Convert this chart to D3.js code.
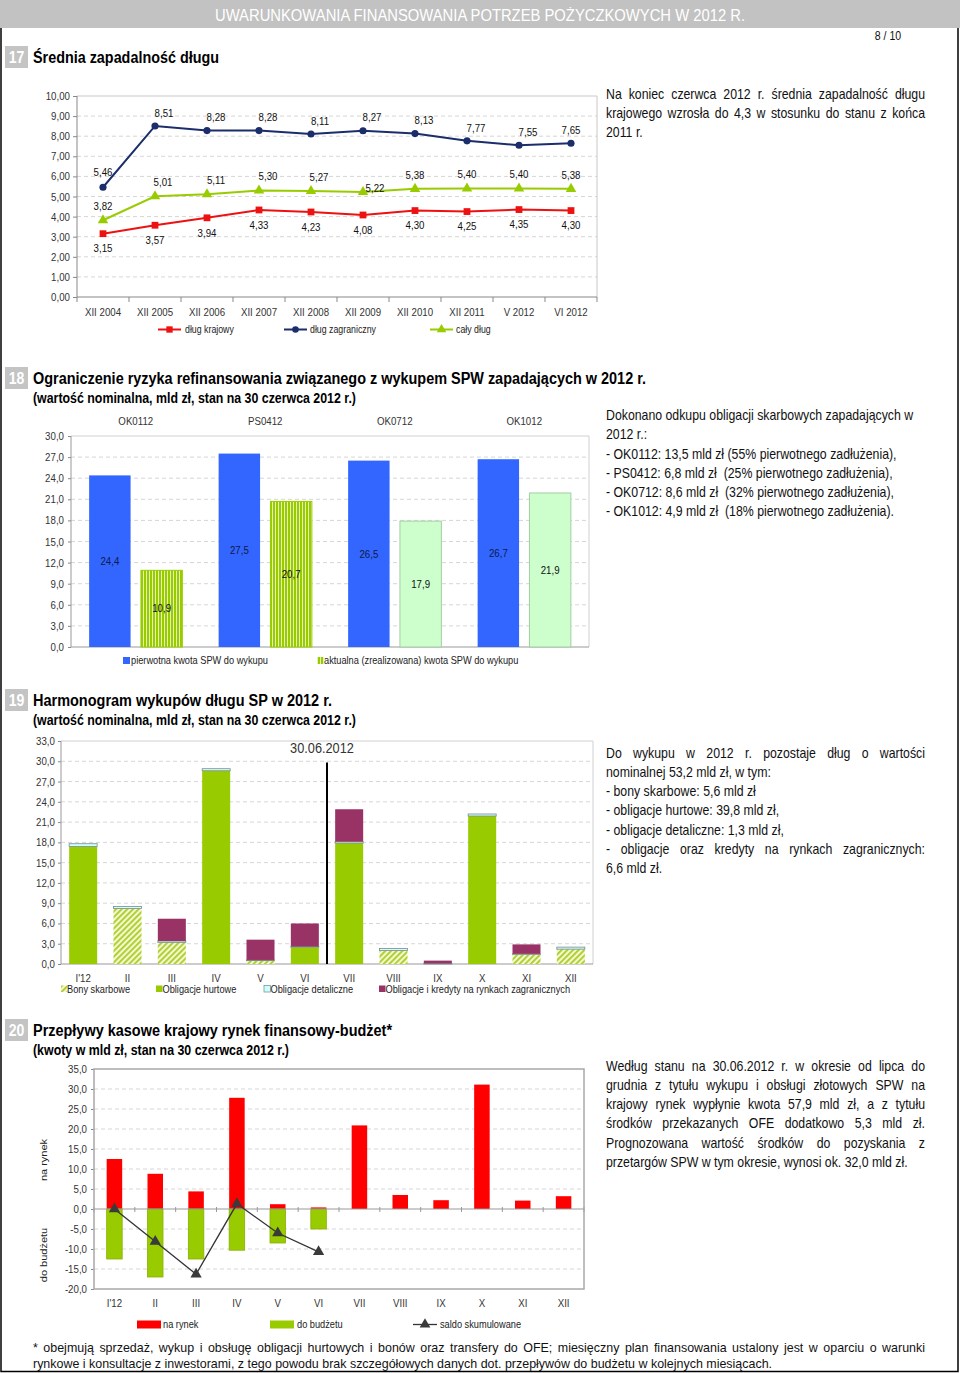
<!DOCTYPE html>
<html><head><meta charset="utf-8">
<script src="https://cdn.jsdelivr.net/npm/d3@7"></script>
<style>
body{margin:0;background:#fff;}
svg{display:block;}
text{white-space:pre;}
</style></head><body>
<svg id="page" width="960" height="1373"></svg>
<script>
// ---------------- DATA ----------------
const c17Categories = ["XII 2004","XII 2005","XII 2006","XII 2007","XII 2008","XII 2009","XII 2010","XII 2011","V 2012","VI 2012"];
const c17Domestic = [3.15,3.57,3.94,4.33,4.23,4.08,4.30,4.25,4.35,4.30];
const c17Foreign  = [5.46,8.51,8.28,8.28,8.11,8.27,8.13,7.77,7.55,7.65];
const c17Total    = [3.82,5.01,5.11,5.30,5.27,5.22,5.38,5.40,5.40,5.38];
const c17Ticks = [0,1,2,3,4,5,6,7,8,9,10];
const c17SeriesNames = ["dług krajowy","dług zagraniczny","cały dług"];

const c18Bonds = ["OK0112","PS0412","OK0712","OK1012"];
const c18Original = [24.4,27.5,26.5,26.7];
const c18Current  = [10.9,20.7,17.9,21.9];
const c18Ticks = [0,3,6,9,12,15,18,21,24,27,30];
const c18SeriesNames = ["pierwotna kwota SPW do wykupu","aktualna (zrealizowana) kwota SPW do wykupu"];

const c19Months = ["I'12","II","III","IV","V","VI","VII","VIII","IX","X","XI","XII"];
const c19Bills     = [0,8.2,3.2,0,0.5,0,0,2.0,0,0,1.4,2.2];
const c19Wholesale = [17.4,0,0,28.6,0,2.5,17.9,0,0,21.9,0,0];
const c19Retail    = [0.4,0.3,0.2,0.3,0.1,0.1,0.2,0.3,0.1,0.3,0.1,0.3];
const c19ForeignM  = [0,0,3.3,0,3.0,3.4,4.8,0,0.4,0,1.4,0];
const c19Ticks = [0,3,6,9,12,15,18,21,24,27,30,33];
const c19SeriesNames = ["Bony skarbowe","Obligacje hurtowe","Obligacje detaliczne","Obligacje i kredyty na rynkach zagranicznych"];
const c19CutoffLabel = "30.06.2012";

const c20Months = ["I'12","II","III","IV","V","VI","VII","VIII","IX","X","XI","XII"];
const c20ToMarket = [12.5,8.8,4.4,27.8,1.2,0.4,20.9,3.5,2.2,31.1,2.1,3.2];
const c20ToBudget = [-12.5,-17.0,-12.5,-10.3,-8.5,-5.0];
const c20Balance  = [0.0,-8.1,-16.3,1.3,-6.0,-10.7];
const c20Ticks = [-20,-15,-10,-5,0,5,10,15,20,25,30,35];
const c20SeriesNames = ["na rynek","do budżetu","saldo skumulowane"];

// label nudges (style only)
const c17ForeignLabelDx = [0,9,9,9,9,9,9,9,9,0];
const c17TotalLabelDx   = [0,8,9,9,8,12,0,0,0,0];

// ---------------- SETUP ----------------
const FONT = '"Liberation Sans", Arial, sans-serif';
const K = 0.88;
const svg = d3.select('#page').attr('font-family', FONT);
const loc = d3.formatLocale({decimal:",", thousands:" ", grouping:[3], currency:["",""], minus:"-"});
const fmt2 = loc.format(".2f"), fmt1 = loc.format(".1f");

function T(parent, x, y, str, o={}) {
  const k = o.k ?? K;
  const g = parent.append('g').attr('transform', `translate(${x},${y}) scale(${k},1)` + (o.rotate ? ` rotate(${o.rotate})` : ''));
  const t = g.append('text').text(str)
    .attr('font-size', o.size || 11)
    .attr('font-weight', o.weight || 'normal')
    .attr('fill', o.fill || '#222')
    .attr('text-anchor', o.anchor || 'start')
    .attr('dominant-baseline', 'central');
  if (o.width) t.attr('textLength', o.width / k).attr('lengthAdjust', 'spacingAndGlyphs');
  return t;
}
function para(x, y0, lh, width, lines, size, k=K) {
  const g = svg.append('g').attr('transform', `translate(${x},0) scale(${k},1)`);
  const W = width / k;
  lines.forEach(([str, just], i) => {
    const y = y0 + i * lh;
    if (!just) {
      g.append('text').attr('x',0).attr('y',y).attr('font-size',size).attr('fill','#111')
        .attr('dominant-baseline','central').text(str);
      return;
    }
    const words = str.split(' ').filter(w => w.length);
    const els = words.map(w => g.append('text').attr('y',y).attr('font-size',size).attr('fill','#111')
        .attr('dominant-baseline','central').text(w));
    const ws = els.map(e => e.node().getComputedTextLength());
    const gap = (W - d3.sum(ws)) / (words.length - 1);
    let cx = 0;
    els.forEach((e,j) => { e.attr('x', cx); cx += ws[j] + gap; });
  });
}
function styleAxis(sel, size=11) {
  sel.attr('font-family', FONT);
  sel.select('.domain').remove();
  sel.selectAll('text').attr('font-size', size).attr('fill', '#333').attr('transform', `scale(${K},1)`);
  sel.selectAll('.tick line').attr('stroke', '#888');
}
function sectionHead(num, y, title, tw, sub, sw) {
  svg.append('rect').attr('x',5).attr('y',y-11).attr('width',23).attr('height',22).attr('fill','#c4c4c4');
  T(svg, 16.5, y+0.5, num, {size:16, fill:'#fff', anchor:'middle', weight:'bold'});
  T(svg, 33, y, title, {size:17, weight:'bold', fill:'#000', width: tw});
  if (sub) T(svg, 33, y+20, sub, {size:14, weight:'bold', fill:'#000', width: sw});
}

const defs = svg.append('defs');
const pv = defs.append('pattern').attr('id','vstripe').attr('patternUnits','userSpaceOnUse').attr('width',3).attr('height',6);
pv.append('rect').attr('width',3).attr('height',6).attr('fill','#99cc00');
pv.append('rect').attr('x',2).attr('width',1).attr('height',6).attr('fill','#e6f2b3');
const pd = defs.append('pattern').attr('id','diag').attr('patternUnits','userSpaceOnUse').attr('width',4).attr('height',4)
  .attr('patternTransform','rotate(45)');
pd.append('rect').attr('width',4).attr('height',4).attr('fill','#f4f8cc');
pd.append('rect').attr('width',1.8).attr('height',4).attr('fill','#a9cc2a');

// ---------------- PAGE ----------------
svg.append('rect').attr('x',0).attr('y',0).attr('width',960).attr('height',28).attr('fill','#c2c2c2');
T(svg, 480, 15, "UWARUNKOWANIA FINANSOWANIA POTRZEB POŻYCZKOWYCH W 2012 R.", {size:17, fill:'#fff', anchor:'middle', width:530});
svg.append('path').attr('d','M1,28 V1371.5 H958 V28').attr('fill','none').attr('stroke','#000').attr('stroke-width',1.5);
T(svg, 888, 36, "8 / 10", {size:12, fill:'#111', anchor:'middle'});

// ================= CHART 17 =================
sectionHead("17", 57, "Średnia zapadalność długu", 186);
{
  const g = svg.append('g');
  const L=77, R=597, B=297, Tp=96;
  const x = d3.scaleBand().domain(c17Categories).range([L,R]);
  const y = d3.scaleLinear().domain([0,10]).range([B,Tp]);
  const cx = (i) => x(c17Categories[i]) + x.bandwidth()/2;
  g.selectAll('line.grid').data(c17Ticks.filter(d=>d>0 && d<10)).join('line')
    .attr('x1',L).attr('x2',R).attr('y1',d=>y(d)).attr('y2',d=>y(d))
    .attr('stroke','#d6d6d6').attr('stroke-dasharray','4,3');
  g.append('path').attr('d',`M${L},${Tp}H${R}V${B}`).attr('fill','none').attr('stroke','#c8c8c8');
  const ay = g.append('g').attr('transform',`translate(${L},0)`)
    .call(d3.axisLeft(y).tickValues(c17Ticks).tickSize(4).tickPadding(4).tickFormat(fmt2));
  styleAxis(ay, 11);
  g.append('line').attr('x1',L).attr('x2',L).attr('y1',Tp).attr('y2',B).attr('stroke','#888');
  const ax = g.append('g').attr('transform',`translate(0,${B})`)
    .call(d3.axisBottom(x).tickSize(0).tickPadding(11));
  styleAxis(ax, 11);
  g.append('line').attr('x1',L).attr('x2',R).attr('y1',B).attr('y2',B).attr('stroke','#888');
  g.selectAll('line.xt').data(c17Categories.concat(['end'])).join('line')
    .attr('x1',(d,i)=> i<c17Categories.length ? x(d) : R).attr('x2',(d,i)=> i<c17Categories.length ? x(d) : R)
    .attr('y1',B).attr('y2',B+5).attr('stroke','#888');

  const line = d3.line().x((d,i)=>cx(i)).y(d=>y(d));
  const series = [
    {v:c17Total, c:'#99cc00', sym:d3.symbolTriangle, sz:48},
    {v:c17Domestic, c:'#ee1111', sym:d3.symbolSquare, sz:46},
    {v:c17Foreign, c:'#1b2d6b', sym:d3.symbolCircle, sz:40},
  ];
  series.forEach(s=>{
    g.append('path').attr('d', line(s.v)).attr('fill','none').attr('stroke',s.c).attr('stroke-width',2);
    g.selectAll(null).data(s.v).join('path')
      .attr('transform',(d,i)=>`translate(${cx(i)},${y(d)})`)
      .attr('d', d3.symbol().type(s.sym).size(s.sz)).attr('fill',s.c);
  });
  c17Foreign.forEach((d,i)=> T(g, cx(i)+c17ForeignLabelDx[i], y(d)-(i===0?15:13), fmt2(d), {size:11, anchor:'middle', fill:'#111'}));
  c17Total.forEach((d,i)=> T(g, cx(i)+c17TotalLabelDx[i], y(d)-(i===5?4:14), fmt2(d), {size:11, anchor:'middle', fill:'#111'}));
  c17Domestic.forEach((d,i)=> T(g, cx(i), y(d)+15, fmt2(d), {size:11, anchor:'middle', fill:'#111'}));

  // legend
  const ly = 329.5;
  const leg = [
    {x:158, c:'#ee1111', sym:d3.symbolSquare, sz:40, tx:185},
    {x:284, c:'#1b2d6b', sym:d3.symbolCircle, sz:34, tx:310},
    {x:430, c:'#99cc00', sym:d3.symbolTriangle, sz:40, tx:456},
  ];
  leg.forEach((l,i)=>{
    g.append('line').attr('x1',l.x).attr('x2',l.x+23).attr('y1',ly).attr('y2',ly).attr('stroke',l.c).attr('stroke-width',2);
    g.append('path').attr('transform',`translate(${l.x+11.5},${ly})`).attr('d',d3.symbol().type(l.sym).size(l.sz)).attr('fill',l.c);
    T(g, l.tx, ly, c17SeriesNames[i], {size:10, fill:'#222'});
  });
}
para(606, 94, 19, 319, [
  ["Na koniec czerwca 2012 r. średnia zapadalność długu", true],
  ["krajowego wzrosła do 4,3 w stosunku do stanu z końca", true],
  ["2011 r.", false]], 14);

// ================= CHART 18 =================
sectionHead("18", 378, "Ograniczenie ryzyka refinansowania związanego z wykupem SPW zapadających w 2012 r.", 613,
  "(wartość nominalna, mld zł, stan na 30 czerwca 2012 r.)", 323);
{
  const g = svg.append('g');
  const L=71, R=589, B=647, Tp=436;
  const x = d3.scaleBand().domain(c18Bonds).range([L,R]);
  const xi = d3.scaleBand().domain([0,1]).range([0,x.bandwidth()]).paddingInner(0.2).paddingOuter(0.35);
  const y = d3.scaleLinear().domain([0,30]).range([B,Tp]);
  g.selectAll('line.grid').data(c18Ticks.filter(d=>d>0 && d<30)).join('line')
    .attr('x1',L).attr('x2',R).attr('y1',d=>y(d)).attr('y2',d=>y(d))
    .attr('stroke','#d6d6d6').attr('stroke-dasharray','4,3');
  g.append('path').attr('d',`M${L},${Tp}H${R}V${B}`).attr('fill','none').attr('stroke','#d0d0d0');
  const ay = g.append('g').attr('transform',`translate(${L},0)`)
    .call(d3.axisLeft(y).tickValues(c18Ticks).tickSize(3).tickPadding(5).tickFormat(fmt1));
  styleAxis(ay, 11);
  g.append('line').attr('x1',L).attr('x2',L).attr('y1',Tp).attr('y2',B).attr('stroke','#999');
  g.append('line').attr('x1',L).attr('x2',R).attr('y1',B).attr('y2',B).attr('stroke','#999');
  const ax = g.append('g').attr('transform',`translate(0,${Tp})`)
    .call(d3.axisTop(x).tickSize(0).tickPadding(10));
  styleAxis(ax, 11);
  ax.selectAll('text').attr('dy','0.32em').attr('y',-15);

  c18Bonds.forEach((b,i)=>{
    const x0 = x(b);
    g.append('rect').attr('x',x0+xi(0)).attr('width',xi.bandwidth()).attr('y',y(c18Original[i])).attr('height',B-y(c18Original[i]))
      .attr('fill','#3366ff');
    const fillC = i<2 ? 'url(#vstripe)' : '#ccffcc';
    g.append('rect').attr('x',x0+xi(1)).attr('width',xi.bandwidth()).attr('y',y(c18Current[i])).attr('height',B-y(c18Current[i]))
      .attr('fill',fillC).attr('stroke', i<2 ? '#99cc00' : '#a6cca6').attr('stroke-width',1);
    T(g, x0+xi(0)+xi.bandwidth()/2, (y(c18Original[i])+B)/2, fmt1(c18Original[i]), {size:11, anchor:'middle', fill:'#0b1a4a'});
    T(g, x0+xi(1)+xi.bandwidth()/2, (y(c18Current[i])+B)/2, fmt1(c18Current[i]), {size:11, anchor:'middle', fill:'#111'});
  });
  const ly = 660.5;
  g.append('rect').attr('x',123).attr('y',ly-3.5).attr('width',7).attr('height',7).attr('fill','#3366ff');
  T(g, 131, ly, c18SeriesNames[0], {size:10.5, fill:'#222'});
  g.append('rect').attr('x',317).attr('y',ly-3.5).attr('width',7).attr('height',7).attr('fill','url(#vstripe)');
  T(g, 324, ly, c18SeriesNames[1], {size:10.5, fill:'#222'});
}
para(606, 415.5, 19.2, 330, [
  ["Dokonano odkupu obligacji skarbowych zapadających w", false],
  ["2012 r.:", false],
  ["- OK0112: 13,5 mld zł (55% pierwotnego zadłużenia),", false],
  ["- PS0412: 6,8 mld zł  (25% pierwotnego zadłużenia),", false],
  ["- OK0712: 8,6 mld zł  (32% pierwotnego zadłużenia),", false],
  ["- OK1012: 4,9 mld zł  (18% pierwotnego zadłużenia).", false]], 14);

// ================= CHART 19 =================
sectionHead("19", 700, "Harmonogram wykupów długu SP w 2012 r.", 299,
  "(wartość nominalna, mld zł, stan na 30 czerwca 2012 r.)", 323);
{
  const g = svg.append('g');
  const L=61, R=593, B=964, Tp=741;
  const x = d3.scaleBand().domain(c19Months).range([L,R]).paddingInner(0.368).paddingOuter(0.184);
  const y = d3.scaleLinear().domain([0,33]).range([B,Tp]);
  g.selectAll('line.grid').data(c19Ticks.filter(d=>d>0 && d<33)).join('line')
    .attr('x1',L).attr('x2',R).attr('y1',d=>y(d)).attr('y2',d=>y(d))
    .attr('stroke','#d6d6d6').attr('stroke-dasharray','4,3');
  g.append('path').attr('d',`M${L},${Tp}H${R}V${B}`).attr('fill','none').attr('stroke','#d0d0d0');
  const ay = g.append('g').attr('transform',`translate(${L},0)`)
    .call(d3.axisLeft(y).tickValues(c19Ticks).tickSize(3).tickPadding(4).tickFormat(fmt1));
  styleAxis(ay, 11);
  g.append('line').attr('x1',L).attr('x2',L).attr('y1',Tp).attr('y2',B).attr('stroke','#999');
  g.append('line').attr('x1',L).attr('x2',R).attr('y1',B).attr('y2',B).attr('stroke','#999');
  const ax = g.append('g').attr('transform',`translate(0,${B})`)
    .call(d3.axisBottom(x).tickSize(0).tickPadding(10));
  styleAxis(ax, 11);

  const rows = c19Months.map((m,i)=>({m, bills:c19Bills[i], wholesale:c19Wholesale[i], retail:c19Retail[i], foreign:c19ForeignM[i]}));
  const keys = ['bills','wholesale','retail','foreign'];
  const fills = {bills:'url(#diag)', wholesale:'#99cc00', retail:'#ccffff', foreign:'#993366'};
  const strokes = {bills:'none', wholesale:'none', retail:'#7a8a8a', foreign:'none'};
  const stack = d3.stack().keys(keys)(rows);
  stack.forEach(layer=>{
    g.selectAll(null).data(layer.filter(d=>d[1]-d[0]>0)).join('rect')
      .attr('x',d=>x(d.data.m)).attr('width',x.bandwidth())
      .attr('y',d=>y(d[1])).attr('height',d=>y(d[0])-y(d[1]))
      .attr('fill',fills[layer.key]).attr('stroke',strokes[layer.key]).attr('stroke-width',0.8);
  });
  const xc = (x(c19Months[5]) + x.bandwidth() + x(c19Months[6]))/2;
  g.append('line').attr('x1',xc).attr('x2',xc).attr('y1',y(29.8)).attr('y2',B).attr('stroke','#000').attr('stroke-width',2);
  T(g, xc-5, 748, c19CutoffLabel, {size:14.5, anchor:'middle', fill:'#333'});

  const ly = 989;
  const lx = [{b:61,t:67},{b:156,t:162.5},{b:264,t:270.5},{b:379,t:385.5}];
  keys.forEach((k,i)=>{
    g.append('rect').attr('x',lx[i].b).attr('y',ly-3.5).attr('width',6.5).attr('height',6.5)
      .attr('fill',fills[k]).attr('stroke', k==='retail' ? '#7a9a9a' : 'none').attr('stroke-width',0.8);
    T(g, lx[i].t, ly, c19SeriesNames[i], {size:10.5, fill:'#222'});
  });
}
para(606, 753, 19.2, 319, [
  ["Do wykupu w 2012 r. pozostaje dług o wartości", true],
  ["nominalnej 53,2 mld zł, w tym:", false],
  ["- bony skarbowe: 5,6 mld zł", false],
  ["- obligacje hurtowe: 39,8 mld zł,", false],
  ["- obligacje detaliczne: 1,3 mld zł,", false],
  ["- obligacje oraz kredyty na rynkach zagranicznych:", true],
  ["6,6 mld zł.", false]], 14);

// ================= CHART 20 =================
sectionHead("20", 1030, "Przepływy kasowe krajowy rynek finansowy-budżet*", 359,
  "(kwoty w mld zł, stan na 30 czerwca 2012 r.)", 256);
{
  const g = svg.append('g');
  const L=94, R=584, B=1289, Tp=1069;
  const x = d3.scaleBand().domain(c20Months).range([L,R]).paddingInner(0.62).paddingOuter(0.31);
  const y = d3.scaleLinear().domain([-20,35]).range([B,Tp]);
  const cx = (i) => x(c20Months[i]) + x.bandwidth()/2;
  g.selectAll('line.grid').data(c20Ticks.filter(d=>d>-20 && d<35 && d!==0)).join('line')
    .attr('x1',L).attr('x2',R).attr('y1',d=>y(d)).attr('y2',d=>y(d))
    .attr('stroke','#d6d6d6').attr('stroke-dasharray','4,3');
  const ay = g.append('g').attr('transform',`translate(${L},0)`)
    .call(d3.axisLeft(y).tickValues(c20Ticks).tickSize(3).tickPadding(5).tickFormat(fmt1));
  styleAxis(ay, 11);
  const ax = g.append('g').attr('transform',`translate(0,${B})`)
    .call(d3.axisBottom(x).tickSize(0).tickPadding(10));
  styleAxis(ax, 11);
  g.selectAll('line.zt').data(d3.range(c20Months.length+1)).join('line')
    .attr('x1',i=> i<c20Months.length ? x(c20Months[i]) - x.step()*x.paddingInner()/2 : R)
    .attr('x2',i=> i<c20Months.length ? x(c20Months[i]) - x.step()*x.paddingInner()/2 : R)
    .attr('y1',y(0)-2).attr('y2',y(0)+3).attr('stroke','#999');

  g.selectAll('rect.mk').data(c20ToMarket).join('rect')
    .attr('x',(d,i)=>x(c20Months[i])).attr('width',x.bandwidth())
    .attr('y',d=>y(d)).attr('height',d=>y(0)-y(d)).attr('fill','#ff0000');
  g.selectAll('rect.bd').data(c20ToBudget).join('rect')
    .attr('x',(d,i)=>x(c20Months[i])).attr('width',x.bandwidth())
    .attr('y',y(0)).attr('height',d=>y(d)-y(0)).attr('fill','#99cc00').attr('stroke','#88b000').attr('stroke-width',0.8);
  g.append('line').attr('x1',L).attr('x2',R).attr('y1',y(0)).attr('y2',y(0)).attr('stroke','#999');
  g.append('rect').attr('x',L).attr('y',Tp).attr('width',R-L).attr('height',B-Tp).attr('fill','none').attr('stroke','#a8a8a8').attr('stroke-width',1.5);

  const line = d3.line().x((d,i)=>cx(i)).y(d=>y(d));
  g.append('path').attr('d',line(c20Balance)).attr('fill','none').attr('stroke','#333').attr('stroke-width',1.3);
  g.selectAll('path.tri').data(c20Balance).join('path')
    .attr('transform',(d,i)=>`translate(${cx(i)},${y(d)})`).attr('d',d3.symbol().type(d3.symbolTriangle).size(55)).attr('fill','#3a3a3a');

  T(g, 44, 1160, "na rynek", {size:11, anchor:'middle', fill:'#222', rotate:-90});
  T(g, 44, 1255, "do budżetu", {size:11, anchor:'middle', fill:'#222', rotate:-90});

  const ly = 1324.5;
  g.append('rect').attr('x',137).attr('y',ly-4).attr('width',24).attr('height',8).attr('fill','#ff0000');
  T(g, 163, ly, c20SeriesNames[0], {size:10.5, fill:'#222'});
  g.append('rect').attr('x',270).attr('y',ly-4).attr('width',24).attr('height',8).attr('fill','#99cc00');
  T(g, 297, ly, c20SeriesNames[1], {size:10.5, fill:'#222'});
  g.append('line').attr('x1',413).attr('x2',437).attr('y1',ly).attr('y2',ly).attr('stroke','#333').attr('stroke-width',1.3);
  g.append('path').attr('transform',`translate(425,${ly})`).attr('d',d3.symbol().type(d3.symbolTriangle).size(50)).attr('fill','#3a3a3a');
  T(g, 440, ly, c20SeriesNames[2], {size:10.5, fill:'#222'});
}
para(606, 1066, 19.2, 319, [
  ["Według stanu na 30.06.2012 r. w okresie od lipca do", true],
  ["grudnia z tytułu wykupu i obsługi złotowych SPW na", true],
  ["krajowy rynek wypłynie kwota 57,9 mld zł, a z tytułu", true],
  ["środków przekazanych OFE dodatkowo 5,3 mld zł.", true],
  ["Prognozowana wartość środków do pozyskania z", true],
  ["przetargów SPW w tym okresie, wynosi ok. 32,0 mld zł.", false]], 14);

// footer
{
  const line2 = "rynkowe i konsultacje z inwestorami, z tego powodu brak szczegółowych danych dot. przepływów do budżetu w kolejnych miesiącach.";
  const probe = svg.append('text').attr('font-size',13).text(line2);
  const w = probe.node().getComputedTextLength(); probe.remove();
  const kf = 740 / w;
  para(33, 1347, 16, 892, [
    ["* obejmują sprzedaż, wykup i obsługę obligacji hurtowych i bonów oraz transfery do OFE; miesięczny plan finansowania ustalony jest w oparciu o warunki", true],
    [line2, false]], 13, kf);
}
</script>
</body></html>
